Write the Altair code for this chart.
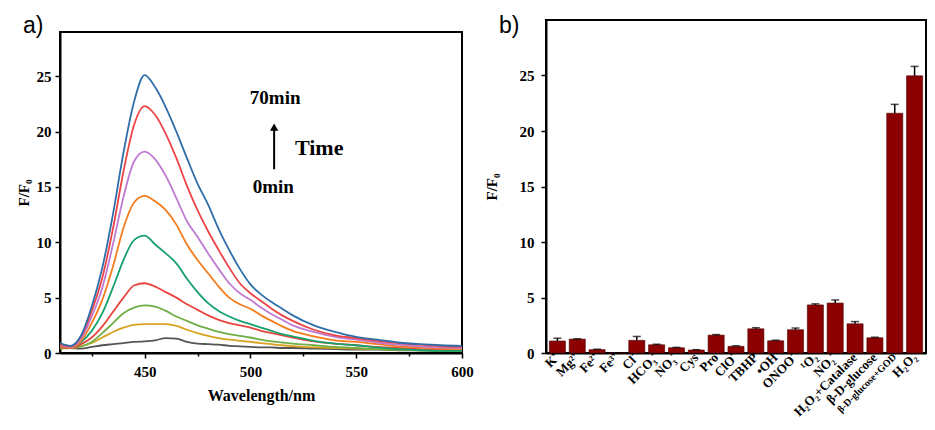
import altair as alt
import pandas as pd

# ---------------- panel a: emission spectra over time ----------------
wavelength = [410, 415, 420, 425, 430, 435, 440, 445, 450, 455, 460, 465, 470, 475, 480,
              485, 490, 495, 500, 505, 510, 515, 520, 530, 540, 550, 560, 570, 580, 590, 600]

curve_gray = [0.5, 0.45, 0.4, 0.55, 0.7, 0.8, 0.9, 1.0, 1.05, 1.15, 1.35, 1.3, 1.0, 0.85, 0.8,
              0.75, 0.65, 0.6, 0.55, 0.5, 0.5, 0.45, 0.45, 0.4, 0.35, 0.3, 0.3, 0.25, 0.25, 0.2, 0.2]
curve_gold = [0.4, 0.45, 0.6, 0.9, 1.4, 1.9, 2.3, 2.55, 2.6, 2.6, 2.6, 2.45, 2.1, 1.8, 1.55,
              1.35, 1.2, 1.1, 1.0, 0.9, 0.8, 0.7, 0.62, 0.5, 0.45, 0.4, 0.35, 0.3, 0.25, 0.2, 0.2]
curve_lgreen = [0.45, 0.45, 0.6, 1.0, 1.8, 2.7, 3.6, 4.1, 4.3, 4.2, 3.8, 3.3, 2.9, 2.5, 2.2,
                1.9, 1.7, 1.55, 1.4, 1.2, 1.05, 0.95, 0.85, 0.7, 0.55, 0.45, 0.35, 0.3, 0.25, 0.2, 0.2]
curve_red2 = [0.5, 0.45, 0.8, 1.4, 2.4, 3.7, 5.0, 6.1, 6.3, 6.0, 5.5, 5.0, 4.4, 3.9, 3.4,
              3.0, 2.7, 2.5, 2.3, 2.0, 1.8, 1.6, 1.4, 1.05, 0.85, 0.7, 0.55, 0.45, 0.35, 0.3, 0.3]
curve_green = [0.6, 0.5, 1.0, 2.0, 3.6, 5.9, 8.4, 10.2, 10.6, 9.8, 9.0, 8.1, 6.7, 5.5, 4.5,
               3.8, 3.3, 2.9, 2.6, 2.3, 2.0, 1.7, 1.5, 1.1, 0.85, 0.7, 0.5, 0.35, 0.25, 0.2, 0.2]
curve_orange = [0.6, 0.5, 1.1, 2.7, 4.8, 7.8, 11.3, 13.6, 14.2, 13.7, 12.9, 11.6, 9.8, 8.4, 7.2,
                6.0, 5.0, 4.4, 4.0, 3.4, 2.9, 2.4, 2.0, 1.5, 1.15, 1.0, 0.8, 0.6, 0.5, 0.4, 0.35]
curve_purple = [0.7, 0.55, 1.3, 3.3, 5.9, 9.8, 14.1, 17.3, 18.2, 17.5, 16.0, 14.0, 11.9, 10.5, 9.0,
                7.6, 6.3, 5.4, 4.8, 4.1, 3.5, 3.0, 2.5, 1.9, 1.45, 1.2, 0.95, 0.75, 0.6, 0.5, 0.45]
curve_red = [0.75, 0.6, 1.5, 3.8, 6.8, 11.2, 16.4, 20.6, 22.3, 21.5, 19.8, 17.6, 15.1, 12.9, 11.0,
             9.3, 7.7, 6.3, 5.4, 4.7, 4.0, 3.4, 2.9, 2.1, 1.6, 1.35, 1.1, 0.9, 0.75, 0.62, 0.55]
curve_blue = [0.9, 0.65, 1.6, 4.2, 7.7, 12.5, 18.1, 22.7, 25.1, 24.0, 22.2, 20.0, 17.6, 15.3, 13.4,
              11.2, 9.3, 7.6, 6.2, 5.3, 4.6, 4.0, 3.4, 2.5, 1.9, 1.45, 1.2, 0.95, 0.8, 0.7, 0.65]

series_names = ["c1", "c2", "c3", "c4", "c5", "c6", "c7", "c8", "c9"]
series_values = [curve_gray, curve_gold, curve_lgreen, curve_red2, curve_green,
                 curve_orange, curve_purple, curve_red, curve_blue]
series_colors = ["#555555", "#d9a21e", "#6fae45", "#e8453f", "#16a06b",
                 "#f57c1c", "#c07ad2", "#ec4446", "#2f6ea8"]

annot_text = ["70min", "Time", "0min"]
annot_x = [511.7, 532.5, 510.8]
annot_y = [23.0, 18.5, 15.0]
annot_size = [19, 22, 19]

arrow_x = [511.2]
arrow_y0 = [16.6]
arrow_y1 = [20.4]

# ---------------- panel b: selectivity bars ----------------
species = ["K⁺", "Mg²⁺", "Fe²⁺", "Fe³⁺", "Cl⁻", "HCO₃⁻", "NO₃⁻", "Cys", "Pro", "ClO⁻",
           "TBHP", "•OH", "ONOO⁻", "¹O₂", "NO₂⁻", "H₂O₂+Catalase", "β-D-glucose",
           "β-D-glucose+GOD", "H₂O₂"]
ratio = [1.08, 1.25, 0.3, 0.0, 1.14, 0.74, 0.47, 0.27, 1.61, 0.6,
         2.18, 1.1, 2.1, 4.33, 4.5, 2.63, 1.37, 21.6, 24.97]
ratio_err = [0.25, 0.03, 0.04, 0.0, 0.35, 0.05, 0.04, 0.03, 0.05, 0.05,
             0.1, 0.05, 0.15, 0.1, 0.28, 0.2, 0.05, 0.8, 0.85]

SERIF = "Liberation Serif"
SANS = "Liberation Sans"

rows = []
for name, vals in zip(series_names, series_values):
    for w, v in zip(wavelength, vals):
        rows.append({"wl": w, "v": v, "series": name})
df_a = pd.DataFrame(rows)

y_minor = [i * 2.5 for i in range(12)]
x_ticks = [425, 450, 475, 500, 525, 550, 575, 600]

xa = alt.X("wl:Q", scale=alt.Scale(domain=[410, 600], nice=False, zero=False),
           axis=alt.Axis(values=x_ticks, labelExpr="datum.value % 50 === 0 ? datum.label : ''",
                         tickSize={"condition": {"test": "datum.value % 50 === 0", "value": 5}, "value": 3},
                         labelFontSize=15, labelPadding=6, labelFlush=False,
                         title="Wavelength/nm", titleFontSize=16, titlePadding=8))
ya = alt.Y("v:Q", scale=alt.Scale(domain=[0, 29], nice=False),
           axis=alt.Axis(values=y_minor, labelExpr="datum.value % 5 === 0 ? datum.label : ''",
                         tickSize={"condition": {"test": "datum.value % 5 === 0", "value": 5}, "value": 2.5},
                         labelFontSize=15, labelPadding=4, labelOverlap=False,
                         title="F/F₀", titleFontSize=15, titlePadding=5))

lines = alt.Chart(df_a).mark_line(strokeWidth=1.8, interpolate="monotone", clip=True).encode(
    x=xa, y=ya,
    color=alt.Color("series:N", scale=alt.Scale(domain=series_names, range=series_colors), legend=None),
)

df_annot = pd.DataFrame({"x": annot_x, "y": annot_y, "t": annot_text, "s": annot_size})
annot = alt.Chart(df_annot).mark_text(font=SERIF, fontWeight="bold", color="black",
                                      baseline="middle", align="center").encode(
    x="x:Q", y="y:Q", text="t:N", size=alt.Size("s:Q", scale=None, legend=None))

df_arrow = pd.DataFrame({"x": arrow_x, "y0": arrow_y0, "y1": arrow_y1})
arrow_shaft = alt.Chart(df_arrow).mark_rule(color="black", strokeWidth=2).encode(
    x="x:Q", y="y0:Q", y2="y1:Q")
arrow_head = alt.Chart(df_arrow).mark_point(shape="triangle-up", filled=True, color="black",
                                            size=70, opacity=1).encode(x="x:Q", y="y1:Q")

label_a = alt.Chart(pd.DataFrame({"t": ["a)"]})).mark_text(
    font=SANS, fontSize=23, align="left", baseline="top", color="black").encode(
    x=alt.value(-37), y=alt.value(-17), text="t:N")

panel_a = alt.layer(lines, annot, arrow_shaft, arrow_head, label_a).properties(width=402, height=321)

spacer = alt.Chart(pd.DataFrame({"s": [0]})).mark_point(opacity=0).properties(
    width=402, height=12, view=alt.ViewBackground(strokeOpacity=0))

df_b = pd.DataFrame({"sp": species, "v": ratio, "e": ratio_err})
df_b["top"] = df_b["v"] + df_b["e"]

xb = alt.X("sp:N", sort=species, scale=alt.Scale(paddingInner=0.19, paddingOuter=0.17),
           axis=alt.Axis(labelAngle=-45, labelAlign="right", labelBaseline="middle",
                         labelFontSize={"condition": {"test": "length(datum.label) > 13", "value": 10},
                                        "value": 13},
                         labelPadding=2, ticks=False, title=None, labelOverlap=False))
yb = alt.Y("v:Q", scale=alt.Scale(domain=[0, 30], nice=False),
           axis=alt.Axis(values=y_minor, labelExpr="datum.value % 5 === 0 ? datum.label : ''",
                         tickSize={"condition": {"test": "datum.value % 5 === 0", "value": 5}, "value": 2.5},
                         labelFontSize=15, labelPadding=7, labelOverlap=False,
                         title="F/F₀", titleFontSize=15, titlePadding=20))

bars = alt.Chart(df_b).mark_bar(color="#8b0000", stroke="#4a0000", strokeWidth=0.6).encode(x=xb, y=yb)
err_rule = alt.Chart(df_b).mark_rule(color="black", strokeWidth=1.5).encode(
    x=alt.X("sp:N", sort=species), y="v:Q", y2="top:Q")
err_cap = alt.Chart(df_b).mark_tick(color="black", thickness=1.5, size=8).encode(
    x=alt.X("sp:N", sort=species), y="top:Q")

label_b = alt.Chart(pd.DataFrame({"t": ["b)"]})).mark_text(
    font=SANS, fontSize=23, align="left", baseline="top", color="black").encode(
    x=alt.value(-47), y=alt.value(-5), text="t:N")

panel_b = alt.layer(bars, err_rule, err_cap, label_b).properties(width=380, height=333)

left = alt.vconcat(spacer, panel_a, spacing=0, bounds="flush")
chart = alt.hconcat(left, panel_b, spacing=8).properties(
    padding={"left": 7, "top": 6, "right": 0, "bottom": 0},
    background="white",
).configure_view(
    stroke="black", strokeWidth=2
).configure_axis(
    domainColor="black", domainWidth=2, tickColor="black", tickWidth=1.5,
    labelFont=SERIF, labelFontWeight="bold", labelColor="black",
    titleFont=SERIF, titleFontWeight="bold", titleColor="black", grid=False,
)

chart.save("out.html", embed_options={"renderer": "svg", "actions": False})
